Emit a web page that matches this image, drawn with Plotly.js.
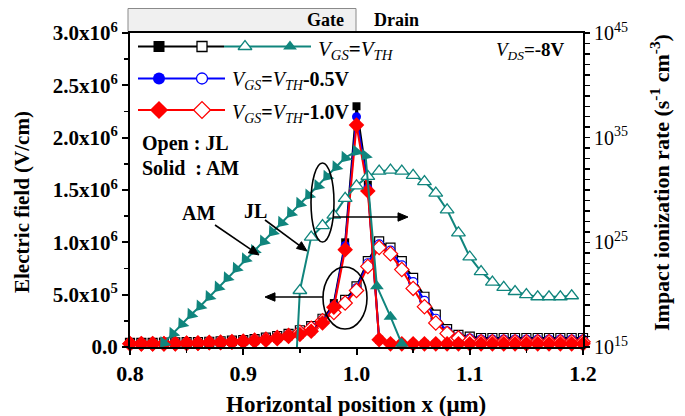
<!DOCTYPE html>
<html><head><meta charset="utf-8">
<script src="https://cdn.plot.ly/plotly-3.0.1.min.js"></script>
<style>html,body{margin:0;padding:0;background:#fff}#chart{width:685px;height:416px}</style>
</head><body><div id="chart"></div>
<script>
// ---------- DATA ----------
const xE = [0.80,0.81,0.82,0.83,0.84,0.85,0.86,0.87,0.88,0.89,0.90,0.91,0.92,0.93,0.94,0.95,0.96,0.97,0.98,0.99,1.00,1.01,1.02,1.03,1.04,1.05,1.06,1.07,1.08,1.09,1.10,1.11,1.12,1.13,1.14,1.15,1.16,1.17,1.18,1.19,1.20];
// Electric field (V/cm), AM = solid markers
const eAM_vth   = [3.0e4,3.0e4,3.0e4,3.0e4,3.2e4,3.4e4,3.6e4,3.8e4,4.0e4,4.5e4,5.0e4,5.5e4,6.5e4,8.0e4,1.0e5,1.2e5,1.5e5,2.4e5,4.2e5,1.0e6,2.30e6,1.55e6,7.0e4,3.0e4,3.0e4,3.0e4,3.0e4,3.0e4,3.0e4,3.0e4,3.0e4,3.0e4,3.0e4,3.0e4,3.0e4,3.0e4,3.0e4,3.0e4,3.0e4,3.0e4,3.0e4];
const eAM_vth05 = [3.0e4,3.0e4,3.0e4,3.0e4,3.2e4,3.4e4,3.6e4,3.8e4,4.0e4,4.5e4,5.0e4,5.5e4,6.5e4,8.0e4,1.0e5,1.2e5,1.5e5,2.35e5,4.0e5,9.7e5,2.20e6,1.52e6,7.0e4,3.0e4,3.0e4,3.0e4,3.0e4,3.0e4,3.0e4,3.0e4,3.0e4,3.0e4,3.0e4,3.0e4,3.0e4,3.0e4,3.0e4,3.0e4,3.0e4,3.0e4,3.0e4];
const eAM_vth10 = [3.0e4,3.0e4,3.0e4,3.0e4,3.0e4,3.5e4,3.5e4,4.0e4,4.0e4,4.5e4,5.0e4,5.5e4,6.5e4,8.0e4,1.0e5,1.2e5,1.5e5,2.3e5,3.8e5,9.3e5,2.12e6,1.49e6,7.0e4,3.0e4,3.0e4,3.0e4,3.0e4,3.0e4,3.0e4,3.0e4,3.0e4,3.0e4,3.0e4,3.0e4,3.0e4,3.0e4,3.0e4,3.0e4,3.0e4,3.0e4,3.0e4];
// Electric field (V/cm), JL = open markers
const eJL_vth   = [4.0e4,4.0e4,4.0e4,4.2e4,4.4e4,4.6e4,4.8e4,5.0e4,5.5e4,6.0e4,6.5e4,7.5e4,9.0e4,1.05e5,1.25e5,1.6e5,2.0e5,2.7e5,3.5e5,4.5e5,5.8e5,8.2e5,1.01e6,9.5e5,8.2e5,6.6e5,4.8e5,3.1e5,1.7e5,1.15e5,1.0e5,8.6e4,8.6e4,8.6e4,8.6e4,8.6e4,8.6e4,8.6e4,8.6e4,8.6e4,8.6e4];
const eJL_vth05 = [3.5e4,3.5e4,3.5e4,3.7e4,3.9e4,4.1e4,4.3e4,4.6e4,5.0e4,5.5e4,6.0e4,7.0e4,8.2e4,9.7e4,1.15e5,1.5e5,1.9e5,2.6e5,3.4e5,4.3e5,5.6e5,8.0e5,9.8e5,9.2e5,7.8e5,6.2e5,4.4e5,2.7e5,1.5e5,1.0e5,8.0e4,7.0e4,7.0e4,7.0e4,7.0e4,7.0e4,7.0e4,7.0e4,7.0e4,7.0e4,7.0e4];
const eJL_vth10 = [3.0e4,3.0e4,3.0e4,3.2e4,3.4e4,3.6e4,3.8e4,4.2e4,4.6e4,5.0e4,5.6e4,6.5e4,7.5e4,9.0e4,1.1e5,1.4e5,1.8e5,2.5e5,3.3e5,4.2e5,5.4e5,7.7e5,9.5e5,8.9e5,7.4e5,5.6e5,3.85e5,2.3e5,1.3e5,8.6e4,6.0e4,5.0e4,5.0e4,5.0e4,5.0e4,5.0e4,5.0e4,5.0e4,5.0e4,5.0e4,5.0e4];
// Impact ionization rate (s^-1 cm^-3), V_GS = V_TH
const xII_AM = [0.830,0.838,0.846,0.854,0.862,0.870,0.878,0.886,0.894,0.902,0.910,0.918,0.926,0.934,0.942,0.950,0.958,0.966,0.974,0.982,0.990,1.000,1.008,1.018,1.030,1.040];
const iiAM   = [2.5e15,2.0e16,1.6e17,1.26e18,7.9e18,6.3e19,5.0e20,4.0e21,3.2e22,2.5e23,1.6e24,1.26e25,1.0e26,7.9e26,6.3e27,5.0e28,3.2e29,2.5e30,2.0e31,1.6e32,1.26e33,5.0e33,2.0e33,6.3e20,7.9e17,2.0e15];
const xII_JL = [0.945,0.95,0.96,0.97,0.98,0.99,1.00,1.01,1.02,1.03,1.04,1.05,1.06,1.07,1.08,1.09,1.10,1.11,1.12,1.13,1.14,1.15,1.16,1.17,1.18,1.19];
const iiJL   = [1.0e10,2.5e20,3.2e25,4.0e26,4.0e27,1.6e29,2.5e30,2.0e31,6.3e31,7.9e31,6.3e31,2.5e31,6.3e30,5.0e29,1.26e28,7.9e25,4.0e23,1.6e22,1.6e21,5.0e20,2.0e20,1.0e20,6.3e19,6.3e19,6.3e19,7.9e19];
// Tick labels
const xTickVals = [0.8,0.9,1.0,1.1,1.2];
const xTickText = ['0.8','0.9','1.0','1.1','1.2'];
const yTickVals = [0,5e5,1e6,1.5e6,2e6,2.5e6,3e6];
const yTickText = ['0.0','5.0x10<sup>5</sup>','1.0x10<sup>6</sup>','1.5x10<sup>6</sup>','2.0x10<sup>6</sup>','2.5x10<sup>6</sup>','3.0x10<sup>6</sup>'];
const y2TickVals = [1e15,1e25,1e35,1e45];
const y2TickText = ['10<sup>15</sup>','10<sup>25</sup>','10<sup>35</sup>','10<sup>45</sup>'];

// ---------- STYLE / LAYOUT ----------
const FONT = 'Liberation Serif, Times New Roman, serif';
const TEAL = '#10857d', BLUE = '#0000ff', RED = '#ff0000', BLACK = '#000000';
const L = 130, R = 583, T = 33, B = 347, W = 685, H = 416;
const px = x => (x - L) / (R - L);
const py = y => (B - y) / (B - T);

const y2minor = [];
for (let e = 15; e <= 45; e++) y2minor.push(Math.pow(10, e));

const traces = [];
const amAngles = xII_AM.map(x => x <= 1.008 ? 220 : 0);
traces.push({x: xII_JL, y: iiJL, yaxis: 'y2', mode: 'lines+markers', line: {color: TEAL, width: 2},
  marker: {symbol: 'triangle-up', size: 12, color: '#ffffff', line: {color: TEAL, width: 1.3}}});
traces.push({x: xII_AM, y: iiAM, yaxis: 'y2', mode: 'lines+markers', cliponaxis: false, line: {color: TEAL, width: 2},
  marker: {symbol: 'triangle-up', size: 12, angle: amAngles, color: TEAL, line: {width: 0}}});

function eTrace(y, color, sym, open, size) {
  return {x: xE, y: y, mode: 'lines+markers', cliponaxis: false, line: {color: color, width: 2},
    marker: {symbol: sym, size: size, color: open ? '#ffffff' : color, line: {color: color, width: open ? 1.2 : 0}}};
}
traces.push(eTrace(eJL_vth, BLACK, 'square', true, 9));
traces.push(eTrace(eJL_vth05, BLUE, 'circle', true, 9));
traces.push(eTrace(eJL_vth10, RED, 'diamond', true, 11));
traces.push(eTrace(eAM_vth, BLACK, 'square', false, 8));
traces.push(eTrace(eAM_vth05, BLUE, 'circle', false, 9));
traces.push(eTrace(eAM_vth10, RED, 'diamond', false, 12));

// custom legend (pixel coordinates on an overlay axis)
function lg(xs, y, extra) {
  return Object.assign({x: xs, y: xs.map(() => y), xaxis: 'x3', yaxis: 'y3', cliponaxis: false}, extra);
}
const r1 = 46.5, r2 = 78.5, r3 = 110;
traces.push(lg([138, 224], r1, {mode: 'lines', line: {color: BLACK, width: 2}}));
traces.push(lg([224, 311], r1, {mode: 'lines', line: {color: TEAL, width: 2}}));
traces.push(lg([159], r1, {mode: 'markers', marker: {symbol: 'square', size: 11, color: BLACK}}));
traces.push(lg([202], r1, {mode: 'markers', marker: {symbol: 'square', size: 10, color: '#fff', line: {color: BLACK, width: 1.3}}}));
traces.push(lg([245], r1, {mode: 'markers', marker: {symbol: 'triangle-up', size: 12, color: '#fff', line: {color: TEAL, width: 1.3}}}));
traces.push(lg([290], r1, {mode: 'markers', marker: {symbol: 'triangle-up', size: 12, color: TEAL}}));
traces.push(lg([138, 225], r2, {mode: 'lines', line: {color: BLUE, width: 2}}));
traces.push(lg([159], r2, {mode: 'markers', marker: {symbol: 'circle', size: 12, color: BLUE}}));
traces.push(lg([202], r2, {mode: 'markers', marker: {symbol: 'circle', size: 11, color: '#fff', line: {color: BLUE, width: 1.3}}}));
traces.push(lg([138, 225], r3, {mode: 'lines', line: {color: RED, width: 2}}));
traces.push(lg([159], r3, {mode: 'markers', marker: {symbol: 'diamond', size: 14, color: RED}}));
traces.push(lg([202], r3, {mode: 'markers', marker: {symbol: 'diamond', size: 13, color: '#fff', line: {color: RED, width: 1.3}}}));

const tf = (size, bold) => ({family: FONT, size: size, color: '#000', weight: bold ? 'bold' : 'normal'});
const ann = (x, y, text, size, extra) => Object.assign({xref: 'paper', yref: 'paper', x: px(x), y: py(y), text: text,
  showarrow: false, font: tf(size, true), xanchor: 'center', yanchor: 'middle'}, extra || {});

const annotations = [
  ann(356, 404, 'Horizontal position x (μm)', 23),
  ann(22, 202, 'Electric field (V/cm)', 21, {textangle: -90}),
  ann(660, 183, 'Impact ionization rate (s<sup>-1</sup> cm<sup>-3</sup>)', 22, {textangle: -90}),
  ann(325, 20, 'Gate', 18),
  ann(396, 20, 'Drain', 18),
  ann(140, 143, 'Open : JL', 20, {xanchor: 'left'}),
  ann(140, 168, 'Solid  : AM', 20, {xanchor: 'left'}),
  ann(198, 213, 'AM', 20),
  ann(255, 211, 'JL', 20),
  ann(316, 50, '<i>V</i><sub><i>GS</i></sub><b>=</b><i>V</i><sub><i>TH</i></sub>', 20, {xanchor: 'left', font: tf(21, false)}),
  ann(230, 81, '<i>V</i><sub><i>GS</i></sub><b>=</b><i>V</i><sub><i>TH</i></sub><b>-0.5V</b>', 20, {xanchor: 'left', font: tf(20, false)}),
  ann(230, 113, '<i>V</i><sub><i>GS</i></sub><b>=</b><i>V</i><sub><i>TH</i></sub><b>-1.0V</b>', 20, {xanchor: 'left', font: tf(20, false)}),
  ann(567, 51, '<i>V</i><sub><i>DS</i></sub><b>=-8V</b>', 19, {xanchor: 'right', font: tf(19, false)})
];

// arrows drawn as shapes (line + filled head), given in pixel positions
function arrowShapes(x0, y0, x1, y1) {
  const dx = x1 - x0, dy = y1 - y0, len = Math.hypot(dx, dy), ux = dx / len, uy = dy / len;
  const hl = 10, hw = 4.2;
  const bx = x1 - ux * hl, by = y1 - uy * hl;
  const p1 = [bx - uy * hw, by + ux * hw], p2 = [bx + uy * hw, by - ux * hw];
  const P = (a, b) => px(a) + ',' + py(b);
  return [
    {type: 'line', xref: 'paper', yref: 'paper', x0: px(x0), y0: py(y0), x1: px(bx), y1: py(by), line: {color: '#000', width: 1.6}},
    {type: 'path', xref: 'paper', yref: 'paper', path: 'M' + P(x1, y1) + 'L' + P(p1[0], p1[1]) + 'L' + P(p2[0], p2[1]) + 'Z',
     fillcolor: '#000', line: {color: '#000', width: 1}}
  ];
}

const shapes = [
  {type: 'rect', xref: 'paper', yref: 'paper', x0: px(128), x1: px(356), y0: py(31.5), y1: py(8.5),
   fillcolor: '#f0f0f0', line: {color: '#8a8a8a', width: 1}, layer: 'below'},
  {type: 'circle', xref: 'paper', yref: 'paper', x0: px(311), x1: px(334), y0: py(242), y1: py(163),
   line: {color: '#000', width: 1.6}},
  {type: 'circle', xref: 'paper', yref: 'paper', x0: px(323), x1: px(367), y0: py(329), y1: py(267),
   line: {color: '#000', width: 1.6}}
].concat(arrowShapes(333, 217, 408, 217), arrowShapes(323, 297, 265, 297),
         arrowShapes(215, 225, 259, 255), arrowShapes(265, 220, 307, 251));

const layout = {
  width: W, height: H, margin: {l: L, r: W - R, t: T, b: H - B, pad: 0},
  paper_bgcolor: '#fff', plot_bgcolor: '#fff', showlegend: false,
  xaxis: {range: [0.8, 1.2], tickvals: xTickVals, ticktext: xTickText, tickfont: tf(22, true),
    ticks: 'outside', ticklen: 6, tickwidth: 2, tickcolor: '#000', showline: true, linewidth: 2, linecolor: '#000',
    mirror: true, showgrid: false, zeroline: false,
    minor: {dtick: 0.05, tick0: 0.8, ticks: 'outside', ticklen: 4, tickwidth: 1.5, tickcolor: '#000', showgrid: false}},
  yaxis: {range: [0, 3.0e6], tickvals: yTickVals, ticktext: yTickText, tickfont: tf(21, true),
    ticks: 'outside', ticklen: 6, tickwidth: 2, tickcolor: '#000', showline: true, linewidth: 2, linecolor: '#000',
    showgrid: false, zeroline: false,
    minor: {dtick: 2.5e5, tick0: 0, ticks: 'outside', ticklen: 4, tickwidth: 1.5, tickcolor: '#000', showgrid: false}},
  yaxis2: {type: 'log', range: [15, 45], overlaying: 'y', side: 'right', tickvals: y2TickVals, ticktext: y2TickText,
    tickfont: tf(20, false), ticks: 'outside', ticklen: 5, tickwidth: 1.5, tickcolor: '#000',
    showline: true, linewidth: 2, linecolor: '#000', showgrid: false, zeroline: false,
    minor: {tickvals: y2minor, ticks: 'outside', ticklen: 5, tickwidth: 1.5, tickcolor: '#000', showgrid: false}},
  xaxis3: {overlaying: 'x', range: [L, R], visible: false},
  yaxis3: {overlaying: 'y', range: [B, T], visible: false},
  annotations: annotations, shapes: shapes
};

Plotly.newPlot('chart', traces, layout, {staticPlot: true, displayModeBar: false});
</script></body></html>
